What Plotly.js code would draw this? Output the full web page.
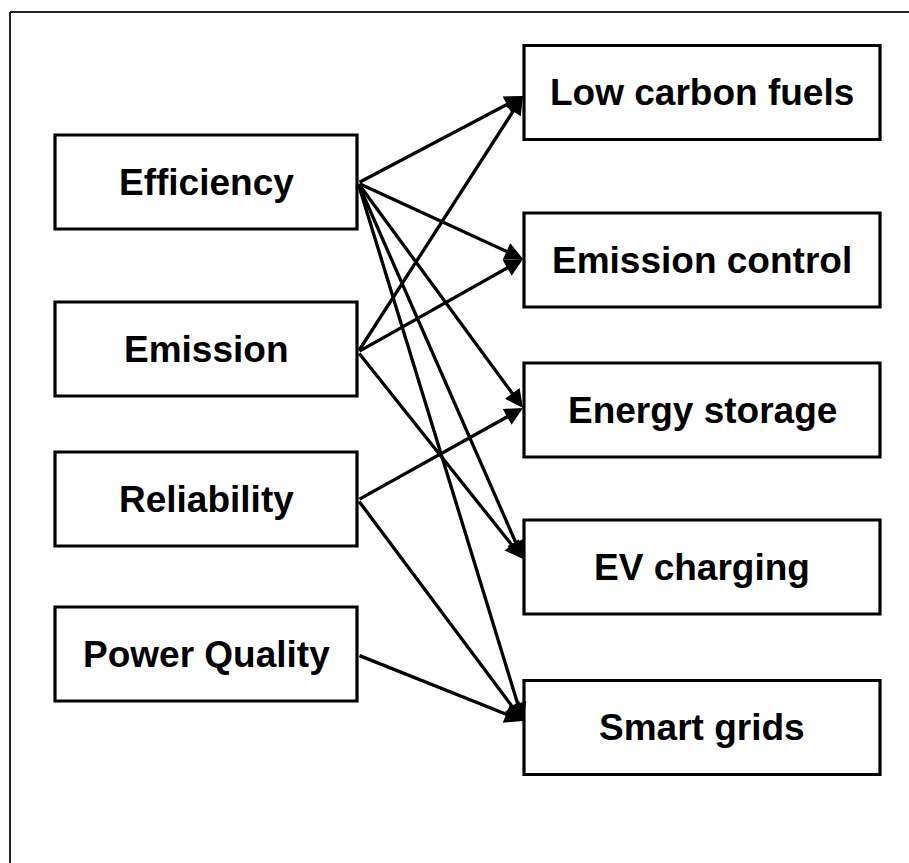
<!DOCTYPE html>
<html>
<head>
<meta charset="utf-8">
<script src="https://cdn.plot.ly/plotly-3.0.1.min.js"></script>
<style>html,body{margin:0;padding:0;background:#fff;}#chart{width:909px;height:863px;}</style>
</head>
<body>
<div id="chart"></div>
<script>
// ---- data ----
const sources = ['Efficiency', 'Emission', 'Reliability', 'Power Quality'];
const targets = ['Low carbon fuels', 'Emission control', 'Energy storage', 'EV charging', 'Smart grids'];
const linkFrom = ['Efficiency', 'Efficiency', 'Efficiency', 'Efficiency', 'Efficiency',
                  'Emission', 'Emission', 'Emission',
                  'Reliability', 'Reliability',
                  'Power Quality'];
const linkTo   = ['Low carbon fuels', 'Emission control', 'Energy storage', 'EV charging', 'Smart grids',
                  'Low carbon fuels', 'Emission control', 'EV charging',
                  'Energy storage', 'Smart grids',
                  'Smart grids'];

// ---- layout (positions in the diagram's coordinate system) ----
const leftCol  = {x0: 55, x1: 357, centers: [182, 349, 499, 654], out: [183, 352, 500, 655]};
const rightCol = {x0: 524, x1: 880, centers: [92.5, 260, 410, 567, 727.5], inn: [96, 259, 408, 559, 721]};
const boxH = 94;
const font = {family: 'Liberation Sans, Arial, sans-serif', size: 37, color: '#000', weight: 'bold'};

const shapes = [];
const annotations = [];

// outer frame (top and left edges visible)
shapes.push({type: 'line', xref: 'x', yref: 'y', x0: 10, x1: 960, y0: 12, y1: 12, line: {color: '#222', width: 2}});
shapes.push({type: 'line', xref: 'x', yref: 'y', x0: 10, x1: 10, y0: 12, y1: 900, line: {color: '#222', width: 2}});

function addBox(col, cy, label) {
  shapes.push({type: 'rect', xref: 'x', yref: 'y', x0: col.x0, x1: col.x1,
               y0: cy - boxH / 2, y1: cy + boxH / 2,
               line: {color: '#000', width: 3.2}, fillcolor: 'rgba(0,0,0,0)'});
  annotations.push({x: (col.x0 + col.x1) / 2, y: cy, xref: 'x', yref: 'y', text: '<b>' + label + '</b>',
                    showarrow: false, font: font, xanchor: 'center', yanchor: 'middle'});
}
sources.forEach((s, i) => addBox(leftCol, leftCol.centers[i], s));
targets.forEach((t, i) => addBox(rightCol, rightCol.centers[i], t));

// arrows
linkFrom.forEach((f, k) => {
  const si = sources.indexOf(f);
  const ti = targets.indexOf(linkTo[k]);
  annotations.push({
    x: rightCol.x0 - 1, y: rightCol.inn[ti], xref: 'x', yref: 'y',
    ax: leftCol.x1 + 1, ay: leftCol.out[si], axref: 'x', ayref: 'y',
    text: '', showarrow: true, arrowhead: 2, arrowsize: 1.1, arrowwidth: 3.3,
    arrowcolor: '#000', standoff: 0, startstandoff: 0
  });
});

const layout = {
  width: 909, height: 863,
  margin: {l: 0, r: 0, t: 0, b: 0},
  paper_bgcolor: '#fff', plot_bgcolor: '#fff',
  showlegend: false,
  xaxis: {range: [0, 909], visible: false, fixedrange: true},
  yaxis: {range: [863, 0], visible: false, fixedrange: true},
  shapes: shapes,
  annotations: annotations
};

Plotly.newPlot('chart', [{x: [], y: [], type: 'scatter', mode: 'markers', hoverinfo: 'skip'}], layout,
               {displayModeBar: false, staticPlot: true});
</script>
</body>
</html>
